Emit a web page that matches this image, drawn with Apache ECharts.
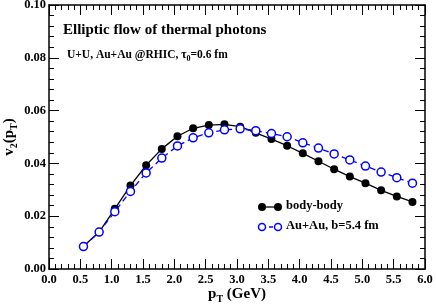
<!DOCTYPE html>
<html>
<head>
<meta charset="utf-8">
<script src="https://cdn.jsdelivr.net/npm/echarts@6/dist/echarts.min.js"></script>
<style>html,body{margin:0;padding:0;background:#fff}#c{width:436px;height:305px}</style>
</head>
<body>
<div id="c"></div>
<script>
var pT = [0.55, 0.8, 1.05, 1.3, 1.55, 1.8, 2.05, 2.3, 2.55, 2.8, 3.05, 3.3, 3.55, 3.8, 4.05, 4.3, 4.55, 4.8, 5.05, 5.3, 5.55, 5.8];
var bodyBody = [0.0086, 0.0140, 0.0228, 0.0316, 0.0393, 0.0455, 0.0503, 0.0533, 0.0545, 0.0548, 0.0539, 0.0516, 0.0492, 0.0467, 0.0438, 0.0408, 0.0378, 0.0350, 0.0325, 0.0298, 0.0275, 0.0254];
var auAu = [0.0085, 0.0140, 0.0217, 0.0294, 0.0364, 0.0420, 0.0466, 0.0497, 0.0516, 0.0527, 0.0531, 0.0524, 0.0513, 0.0501, 0.0478, 0.0458, 0.0436, 0.0413, 0.0390, 0.0367, 0.0346, 0.0325];
var xTicks = ['0.0','0.5','1.0','1.5','2.0','2.5','3.0','3.5','4.0','4.5','5.0','5.5','6.0'];
var yTicks = ['0.00','0.02','0.04','0.06','0.08','0.10'];

var F = 'Liberation Serif';
function pairs(x, y) { return x.map(function (v, i) { return [v, y[i]]; }); }
function tk(c) { return {show: true, inside: true, length: 10, lineStyle: {color: c, width: 1}}; }
function mtk(c) { return {show: true, splitNumber: 5, length: 5, lineStyle: {color: c, width: 1}}; }
function ln() { return {show: true, onZero: false, lineStyle: {color: '#000', width: 1.5}}; }
function sub(sz, pad) { return {s: {fontFamily: F, fontWeight: 'bold', fontSize: sz, verticalAlign: 'bottom', padding: [pad, 0, 0, 0]}}; }

var chart = echarts.init(document.getElementById('c'), null, {renderer: 'canvas'});
chart.setOption({
  animation: false,
  backgroundColor: '#fff',
  title: [
    {text: 'Elliptic flow of thermal photons', left: 58, top: 18,
     textStyle: {fontFamily: F, fontWeight: 'bold', fontSize: 15, color: '#000'}},
    {text: 'U+U, Au+Au @RHIC, τ{s|0}=0.6 fm', left: 62, top: 42,
     textStyle: {fontFamily: F, fontWeight: 'bold', fontSize: 11.5, color: '#000', rich: sub(8, 8)}}
  ],
  grid: {left: 49, right: 11, top: 5, bottom: 36, containLabel: false, outerBoundsMode: 'none'},
  xAxis: [
    {type: 'value', min: 0, max: 6, interval: 0.5,
     axisLine: ln(), axisTick: tk('#000'), minorTick: mtk('#000'), splitLine: {show: false},
     axisLabel: {fontFamily: F, fontWeight: 'bold', fontSize: 12.5, color: '#000', margin: 4,
       formatter: function (v) { return xTicks[Math.round(v / 0.5)]; }},
     name: 'p{s|T} (GeV)', nameLocation: 'middle', nameGap: 15, nameMoveOverlap: false,
     nameTextStyle: {fontFamily: F, fontWeight: 'bold', fontSize: 15, color: '#000', rich: sub(10, 10)}},
    {type: 'value', position: 'top', min: 0, max: 6, interval: 0.5,
     axisLine: ln(), axisTick: tk('#000'), minorTick: mtk('#000'), splitLine: {show: false},
     axisLabel: {show: false}}
  ],
  yAxis: [
    {type: 'value', min: 0, max: 0.1, interval: 0.02,
     axisLine: ln(), axisTick: tk('#000'), minorTick: mtk('#000'), splitLine: {show: false},
     axisLabel: {fontFamily: F, fontWeight: 'bold', fontSize: 12.5, color: '#000', margin: 3,
       formatter: function (v) { return yTicks[Math.round(v / 0.02)]; }},
     name: 'v{s|2}(p{s|T})', nameLocation: 'middle', nameGap: 30, nameRotate: 90, nameMoveOverlap: false,
     nameTextStyle: {fontFamily: F, fontWeight: 'bold', fontSize: 15, color: '#000', rich: sub(10, 10)}},
    {type: 'value', position: 'right', min: 0, max: 0.1, interval: 0.02,
     axisLine: ln(), axisTick: tk('#000'), minorTick: mtk('#000'), splitLine: {show: false},
     axisLabel: {show: false}}
  ],
  series: [
    {name: 'body-body', type: 'line', data: pairs(pT, bodyBody), symbol: 'circle', symbolSize: 8,
     lineStyle: {color: '#000', width: 1.3}, itemStyle: {color: '#000', borderColor: '#000', borderWidth: 0}, z: 2},
    {name: 'Au+Au, b=5.4 fm', type: 'line', data: pairs(pT, auAu), symbol: 'circle', symbolSize: 8,
     lineStyle: {color: '#0000ff', width: 1.3, type: [6, 4]},
     itemStyle: {color: '#fff', borderColor: '#0000ff', borderWidth: 1.5}, z: 3}
  ],
  graphic: [
    {type: 'line', shape: {x1: 262, y1: 207, x2: 278, y2: 207}, style: {stroke: '#000', lineWidth: 1.3}},
    {type: 'circle', shape: {cx: 262, cy: 207, r: 4}, style: {fill: '#000'}},
    {type: 'circle', shape: {cx: 278, cy: 207, r: 4}, style: {fill: '#000'}},
    {type: 'text', left: 286, top: 199, style: {text: 'body-body', font: 'bold 12.5px "Liberation Serif"', fill: '#000'}},
    {type: 'line', shape: {x1: 262, y1: 227, x2: 278, y2: 227}, style: {stroke: '#0000ff', lineWidth: 1.3, lineDash: [4, 3]}},
    {type: 'circle', shape: {cx: 262, cy: 227, r: 3.5}, style: {fill: '#fff', stroke: '#0000ff', lineWidth: 1.5}},
    {type: 'circle', shape: {cx: 278, cy: 227, r: 3.5}, style: {fill: '#fff', stroke: '#0000ff', lineWidth: 1.5}},
    {type: 'text', left: 286, top: 219, style: {text: 'Au+Au, b=5.4 fm', font: 'bold 12.5px "Liberation Serif"', fill: '#000'}}
  ]
});
</script>
</body>
</html>
